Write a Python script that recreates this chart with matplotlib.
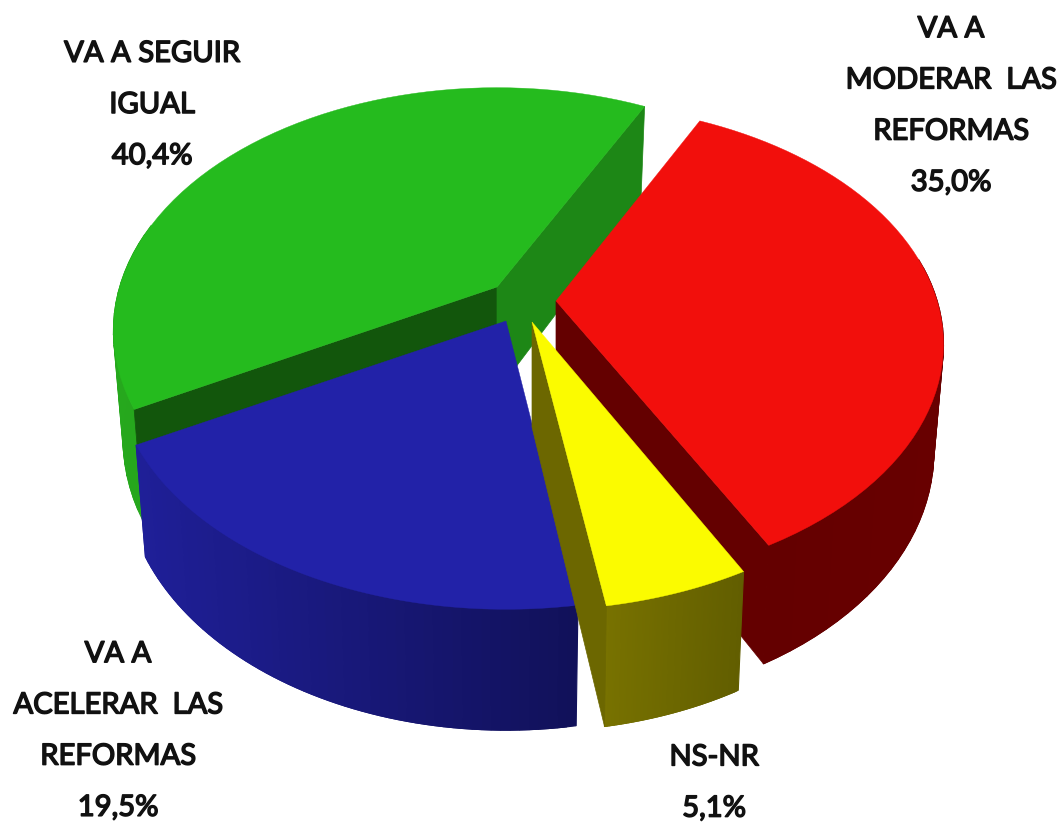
import numpy as np
import matplotlib
matplotlib.use("Agg")
import matplotlib.pyplot as plt
import matplotlib.patheffects as pe
from matplotlib.colors import to_rgb

# slice shares, going clockwise from the top right edge of the green slice
shares = [35.0, 5.1, 19.5, 40.4]
names = ["red", "yellow", "blue", "green"]
labels = ["VA A\nMODERAR  LAS\nREFORMAS\n35,0%", "NS-NR\n5,1%",
          "VA A\nACELERAR  LAS\nREFORMAS\n19,5%", "VA A SEGUIR\nIGUAL\n40,4%"]

# look of the fake 3d pie, all in pixels
RX, RY, PERSP = 385, 240, 0.18
DEPTH, BOTTOM_X, BOTTOM_Y = 105, 0.975, 1.055
START = 63.0

apex = {"green": (497, 288), "blue": (506, 322), "yellow": (532, 323), "red": (556, 302)}
# far slices are a bit smaller: x scale, y scale, turn in degrees
tweak = {"green": (0.98, 0.98, 0), "blue": (1.0, 0.985, 0.2), "yellow": (1.0, 0.985, 0.5), "red": (0.99, 0.97, 1.0)}
top_col = {"green": "#25bb1e", "blue": "#2222a8", "yellow": "#fbfb00", "red": "#f20f0c"}
side_col = {"green": ("#26a81d", "#1f8a16"), "blue": ("#1f1f98", "#11115a"),
            "yellow": ("#787200", "#625e00"), "red": ("#620000", "#680000")}
# colour of the cut faces that can be seen, a1 is the first angle, a2 the last
cut_col = {"green": {"a1": "#12560c", "a2": "#1d8716"}, "blue": {},
           "yellow": {"a2": "#6c6700"}, "red": {"a2": "#640000"}}
label_pos = {"red": (951, 107), "yellow": (714, 784), "blue": (118, 732), "green": (152, 106)}


def project(name, theta, bottom=False):
    cx, cy = apex[name]
    sx, sy, turn = tweak[name]
    t = np.radians(theta + turn)
    u, v = np.cos(t), np.sin(t)
    s = 1 / (1 + PERSP * v)
    if bottom:
        return cx + BOTTOM_X * sx * RX * u * s, cy + DEPTH - BOTTOM_Y * sy * RY * v * s
    return cx + sx * RX * u * s, cy - sy * RY * v * s


def draw_slice(ax, name, a1, a2):
    # side first, then cut faces, top last
    thetas = np.linspace(a1, a2, 60)
    c0, c1 = np.array(to_rgb(side_col[name][0])), np.array(to_rgb(side_col[name][1]))
    top = np.array([project(name, t) for t in thetas])
    low = np.array([project(name, t, True) for t in thetas])
    span = max(top[:, 0].max() - top[:, 0].min(), 1)
    for i in range(len(thetas) - 1):
        # the back of the rim is hidden anyway
        if np.sin(np.radians(thetas[i])) > 0.2:
            continue
        col = c0 + (c1 - c0) * (top[i, 0] - top[:, 0].min()) / span
        # two steps wide so the bands overlap and no white seam shows
        j = min(i + 2, len(thetas) - 1)
        quad = np.vstack([top[i:j + 1], low[i:j + 1][::-1]])
        ax.fill(quad[:, 0], quad[:, 1], color=col, lw=0.8)

    cx, cy = apex[name]
    for which, col in cut_col[name].items():
        t = a1 if which == "a1" else a2
        p1 = project(name, t)
        p2 = project(name, t, True)
        ax.fill([cx, p1[0], p2[0], cx], [cy, p1[1], p2[1], cy + DEPTH], color=col, lw=0.5)

    px = [cx] + list(top[:, 0])
    py = [cy] + list(top[:, 1])
    ax.fill(px, py, color=top_col[name], lw=0.3)


plt.rcParams['font.family'] = ['Lato', 'DejaVu Sans']
fig = plt.figure(figsize=(10.59, 8.28), dpi=100)
ax = fig.add_axes([0, 0, 1, 1])
ax.set_xlim(0, 1059)
ax.set_ylim(828, 0)
ax.axis("off")

edges = START - np.cumsum([0] + shares) * 3.6
ranges = {n: (edges[i], edges[i + 1]) for i, n in enumerate(names)}
for n in ["green", "red", "blue", "yellow"]:
    draw_slice(ax, n, *ranges[n])

for n, lab in zip(names, labels):
    x, y = label_pos[n]
    ax.text(x, y, lab, ha="center", va="center", multialignment="center",
            fontsize=21, color="#111111", linespacing=2.2,
            path_effects=[pe.withStroke(linewidth=1.1, foreground="#111111")])

fig.savefig("out.png", dpi=100)
